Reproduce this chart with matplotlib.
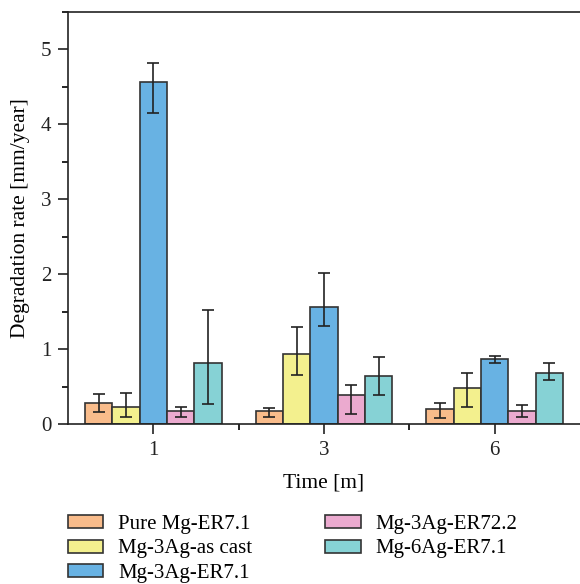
import matplotlib
matplotlib.use("Agg")
import matplotlib.pyplot as plt
import numpy as np
from matplotlib.ticker import MultipleLocator, FixedLocator

times = ["1", "3", "6"]
series = ["Pure Mg-ER7.1", "Mg-3Ag-as cast", "Mg-3Ag-ER7.1", "Mg-3Ag-ER72.2", "Mg-6Ag-ER7.1"]
colors = ["#F9BC8B", "#F3F08E", "#68B2E3", "#EBAACF", "#86D2D5"]

# mean values per series, one per time point
rates = [
    [0.28, 0.17, 0.20],
    [0.23, 0.94, 0.48],
    [4.57, 1.56, 0.87],
    [0.17, 0.39, 0.18],
    [0.81, 0.64, 0.68],
]
# error bar ends (low / high)
err_low = [
    [0.16, 0.10, 0.08],
    [0.10, 0.65, 0.23],
    [4.15, 1.31, 0.81],
    [0.10, 0.14, 0.10],
    [0.27, 0.39, 0.59],
]
err_high = [
    [0.40, 0.22, 0.28],
    [0.42, 1.30, 0.68],
    [4.82, 2.02, 0.91],
    [0.23, 0.52, 0.25],
    [1.52, 0.90, 0.81],
]

plt.rcParams["font.family"] = ["Liberation Serif", "DejaVu Serif"]

fig = plt.figure(figsize=(5.8, 5.84), dpi=100)
ax = fig.add_axes([68 / 580, 160 / 584, 512 / 580, 412 / 584])

x = np.arange(len(times))
w = 0.16
for i, name in enumerate(series):
    pos = x + (i - 2) * w
    vals = np.array(rates[i])
    yerr = [vals - np.array(err_low[i]), np.array(err_high[i]) - vals]
    ax.bar(pos, vals, width=w, color=colors[i], edgecolor="#333333", linewidth=1.2,
           label=name, zorder=2)
    ax.errorbar(pos, vals, yerr=yerr, fmt="none", ecolor="#222222", elinewidth=1.2,
                capsize=4, capthick=1.2, zorder=3)

ax.set_xlim(-0.5, 2.5)
ax.set_ylim(0, 5.5)
ax.set_xticks(x)
ax.set_xticklabels(times)
ax.xaxis.set_minor_locator(FixedLocator([0.5, 1.5]))
ax.yaxis.set_major_locator(MultipleLocator(1))
ax.yaxis.set_minor_locator(MultipleLocator(0.5))
ax.tick_params(axis="both", which="major", direction="out", length=7, width=1.2, labelsize=15,
               colors="#222222", pad=5)
ax.tick_params(axis="both", which="minor", direction="out", length=4, width=1.2)
ax.spines["right"].set_visible(False)
for s in ["left", "top", "bottom"]:
    ax.spines[s].set_linewidth(1.2)
    ax.spines[s].set_color("#222222")

ax.set_ylabel("Degradation rate [mm/year]", fontsize=15.5, labelpad=8)
ax.set_xlabel("Time [m]", fontsize=15.5, labelpad=10)

fig.legend(loc="upper left", bbox_to_anchor=(68 / 580, 1 - 515 / 584), ncol=2, frameon=False,
           fontsize=15, handlelength=1.7, handleheight=0.58, handletextpad=0.72,
           columnspacing=3.5, labelspacing=0.26, borderaxespad=0, borderpad=0)

fig.savefig("out.png", dpi=100)
